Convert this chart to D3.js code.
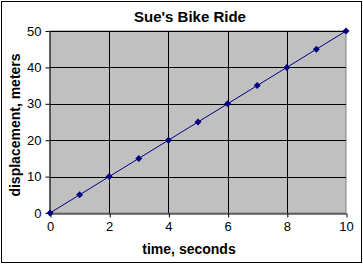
<!DOCTYPE html>
<html>
<head>
<meta charset="utf-8">
<script src="https://cdn.jsdelivr.net/npm/d3@7"></script>
<style>
  body { margin: 0; background: #fff; }
  svg { display: block; font-family: Arial, "Liberation Sans", sans-serif; }
</style>
</head>
<body>
<svg id="chart" width="363" height="264"></svg>
<script>
const TITLE = "Sue's Bike Ride";
const X_LABEL = 'time, seconds';
const Y_LABEL = 'displacement, meters';

const times = [0, 1, 2, 3, 4, 5, 6, 7, 8, 9, 10];
const displacements = [0, 5, 10, 15, 20, 25, 30, 35, 40, 45, 50];
const xTicks = [0, 2, 4, 6, 8, 10];
const yTicks = [0, 10, 20, 30, 40, 50];

const svg = d3.select('#chart');
const margin = { left: 50, right: 17, top: 31, bottom: 51 };
const width = 363, height = 264;
const plotW = width - margin.left - margin.right;
const plotH = height - margin.top - margin.bottom;

// outer frame
svg.append('rect')
    .attr('x', 1.5).attr('y', 1.5)
    .attr('width', width - 3).attr('height', height - 3)
    .attr('fill', '#fff').attr('stroke', '#000').attr('stroke-width', 1);

const x = d3.scaleLinear().domain([0, 10]).range([margin.left, margin.left + plotW]);
const y = d3.scaleLinear().domain([0, 50]).range([margin.top + plotH, margin.top]);

// plot background
svg.append('rect')
    .attr('x', x(0)).attr('y', y(50))
    .attr('width', x(10) - x(0)).attr('height', y(0) - y(50))
    .attr('fill', '#c0c0c0').attr('stroke', '#808080').attr('stroke-width', 1);

// grid
svg.append('g').selectAll('line').data(xTicks.slice(1, -1)).join('line')
    .attr('x1', d => Math.round(x(d)) + 0.5).attr('x2', d => Math.round(x(d)) + 0.5)
    .attr('y1', y(50)).attr('y2', y(0))
    .attr('stroke', '#000');
svg.append('g').selectAll('line').data(yTicks.slice(1)).join('line')
    .attr('x1', x(0)).attr('x2', x(10))
    .attr('y1', d => Math.round(y(d)) + 0.5).attr('y2', d => Math.round(y(d)) + 0.5)
    .attr('stroke', '#000');

// axes
const xAxis = svg.append('g')
    .attr('transform', `translate(0,${Math.round(y(0)) + 0.5})`)
    .call(d3.axisBottom(x).tickValues(xTicks).tickSize(4).tickPadding(4).tickSizeOuter(0));
const yAxis = svg.append('g')
    .attr('transform', `translate(${Math.round(x(0)) - 0.5},0)`)
    .call(d3.axisLeft(y).tickValues(yTicks).tickSize(4).tickPadding(4).tickSizeOuter(0));
[xAxis, yAxis].forEach(g => {
    g.selectAll('path, line').attr('stroke', '#000');
    g.selectAll('text').attr('fill', '#000').style('font-size', '13px')
        .style('font-family', 'Arial, "Liberation Sans", sans-serif');
});
xAxis.selectAll('.tick line').attr('transform', 'translate(0.5,0)');

// line + markers
const pts = times.map((t, i) => [t, displacements[i]]);
svg.append('path')
    .datum(pts)
    .attr('fill', 'none').attr('stroke', '#000080').attr('stroke-width', 1)
    .attr('d', d3.line().x(d => x(d[0])).y(d => y(d[1])));
svg.append('g').selectAll('path').data(pts).join('path')
    .attr('transform', d => `translate(${x(d[0])},${y(d[1])})`)
    .attr('d', 'M0,-3.5L3.5,0L0,3.5L-3.5,0Z')
    .attr('fill', '#000080');

// title and labels
svg.append('text')
    .attr('x', 190).attr('y', 22)
    .attr('text-anchor', 'middle')
    .style('font-size', '15px').style('font-weight', 'bold')
    .text(TITLE);
svg.append('text')
    .attr('x', 189).attr('y', 254)
    .attr('text-anchor', 'middle')
    .style('font-size', '14px').style('font-weight', 'bold')
    .text(X_LABEL);
svg.append('text')
    .attr('transform', `translate(20,${(y(0) + y(50)) / 2 + 3}) rotate(-90)`)
    .attr('text-anchor', 'middle')
    .style('font-size', '14px').style('font-weight', 'bold')
    .text(Y_LABEL);
</script>
</body>
</html>
